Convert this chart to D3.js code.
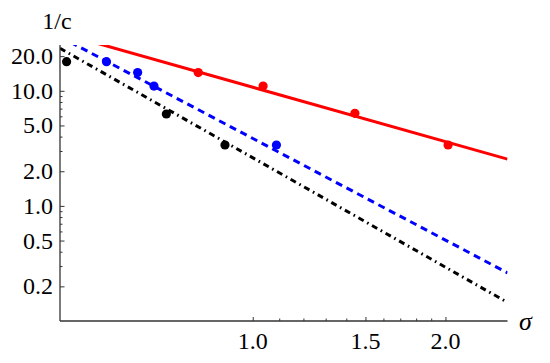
<!DOCTYPE html>
<html>
<head>
<meta charset="utf-8">
<script src="https://cdn.jsdelivr.net/npm/d3@7"></script>
<style>
  html, body { margin: 0; padding: 0; background: #fff; }
  svg { display: block; }
</style>
</head>
<body>
<svg id="chart" width="550" height="363"></svg>
<script>
// ---- data ----
const xTicks = [1.0, 1.5, 2.0];
const xMinorTicks = [1.1, 1.2, 1.3, 1.4, 1.6, 1.7, 1.8, 1.9];
const yTicks = [0.2, 0.5, 1, 2, 5, 10, 20];
const yMinorTicks = [0.3, 0.4, 0.6, 0.7, 0.8, 0.9, 3, 4, 6, 7, 8, 9];

const sigmaRed = [0.822, 1.038, 1.444, 2.019];
const invCRed = [14.4, 11.0, 6.37, 3.38];
const sigmaBlue = [0.591, 0.661, 0.701, 1.089];
const invCBlue = [17.9, 14.4, 11.0, 3.38];
const sigmaBlack = [0.512, 0.733, 0.905];
const invCBlack = [17.9, 6.29, 3.38];

const fitSigma = [0.5, 2.5];
const fitRed = [31.9, 2.55];
const fitBlue = [29.5, 0.262];
const fitBlack = [23.4, 0.145];

// ---- layout ----
const L = 60, R = 507.5, T = 45, B = 321;
const FONT = '"Liberation Serif"';
const svg = d3.select("#chart");
const x = d3.scaleLog().domain([0.5, 2.5]).range([L, R]);
const y = d3.scaleLog().domain([0.1, 25]).range([B, T]);
const fmt = d3.format(".1f");

svg.append("defs").append("clipPath").attr("id", "plotclip")
  .append("rect").attr("x", L).attr("y", T).attr("width", R - L).attr("height", B - T);

const plot = svg.append("g").attr("clip-path", "url(#plotclip)");
const line = d3.line().x(d => x(d[0])).y(d => y(d[1]));

const series = [
  { xs: sigmaRed, ys: invCRed, fit: fitRed, color: "#ff0000", dash: null },
  { xs: sigmaBlue, ys: invCBlue, fit: fitBlue, color: "#0000ff", dash: "7,5" },
  { xs: sigmaBlack, ys: invCBlack, fit: fitBlack, color: "#000000", dash: "6,4,1.6,4" }
];

series.forEach(s => {
  plot.append("path")
    .datum(fitSigma.map((v, i) => [v, s.fit[i]]))
    .attr("d", line)
    .attr("fill", "none")
    .attr("stroke", s.color)
    .attr("stroke-width", 3)
    .attr("stroke-dasharray", s.dash);
});
series.forEach(s => {
  svg.append("g").selectAll("circle")
    .data(s.xs.map((v, i) => [v, s.ys[i]]))
    .join("circle")
    .attr("cx", d => x(d[0]))
    .attr("cy", d => y(d[1]))
    .attr("r", 4.6)
    .attr("fill", s.color);
});

// ---- axes (tick marks via d3 axes) ----
const axisColor = "#333";
const styleAxis = g => {
  g.select(".domain").remove();
  g.selectAll(".tick line").attr("stroke", axisColor);
  g.selectAll(".tick text").remove();
};
svg.append("g").attr("transform", `translate(0,${B})`)
  .call(d3.axisTop(x).tickValues(xTicks).tickSize(4).tickFormat(""))
  .call(styleAxis);
svg.append("g").attr("transform", `translate(0,${B})`)
  .call(d3.axisTop(x).tickValues(xMinorTicks).tickSize(2.5).tickFormat(""))
  .call(styleAxis);
svg.append("g").attr("transform", `translate(${L},0)`)
  .call(d3.axisRight(y).tickValues(yTicks).tickSize(4.5).tickFormat(""))
  .call(styleAxis);
svg.append("g").attr("transform", `translate(${L},0)`)
  .call(d3.axisRight(y).tickValues(yMinorTicks).tickSize(2.5).tickFormat(""))
  .call(styleAxis);

svg.append("line").attr("x1", L).attr("x2", R).attr("y1", B).attr("y2", B)
  .attr("stroke", axisColor).attr("stroke-width", 1.3);
svg.append("line").attr("x1", L).attr("x2", L).attr("y1", T).attr("y2", B)
  .attr("stroke", axisColor).attr("stroke-width", 1.3);

// ---- tick labels ----
svg.append("g").selectAll("text").data(xTicks).join("text")
  .attr("x", d => x(d)).attr("y", B + 28)
  .attr("text-anchor", "middle")
  .style("font-family", FONT).style("font-size", "24px").attr("fill", "#000")
  .text(fmt);
svg.append("g").selectAll("text").data(yTicks).join("text")
  .attr("x", L - 7).attr("y", d => y(d) + 8)
  .attr("text-anchor", "end")
  .style("font-family", FONT).style("font-size", "24px").attr("fill", "#000")
  .text(fmt);

// ---- axis labels ----
svg.append("text").attr("x", 57).attr("y", 29).attr("text-anchor", "middle")
  .style("font-family", FONT).style("font-size", "24px").attr("fill", "#000").text("1/c");
svg.append("text").attr("x", 519).attr("y", 330)
  .style("font-family", FONT).style("font-size", "26px").style("font-style", "italic")
  .attr("fill", "#000").text("σ");
</script>
</body>
</html>
